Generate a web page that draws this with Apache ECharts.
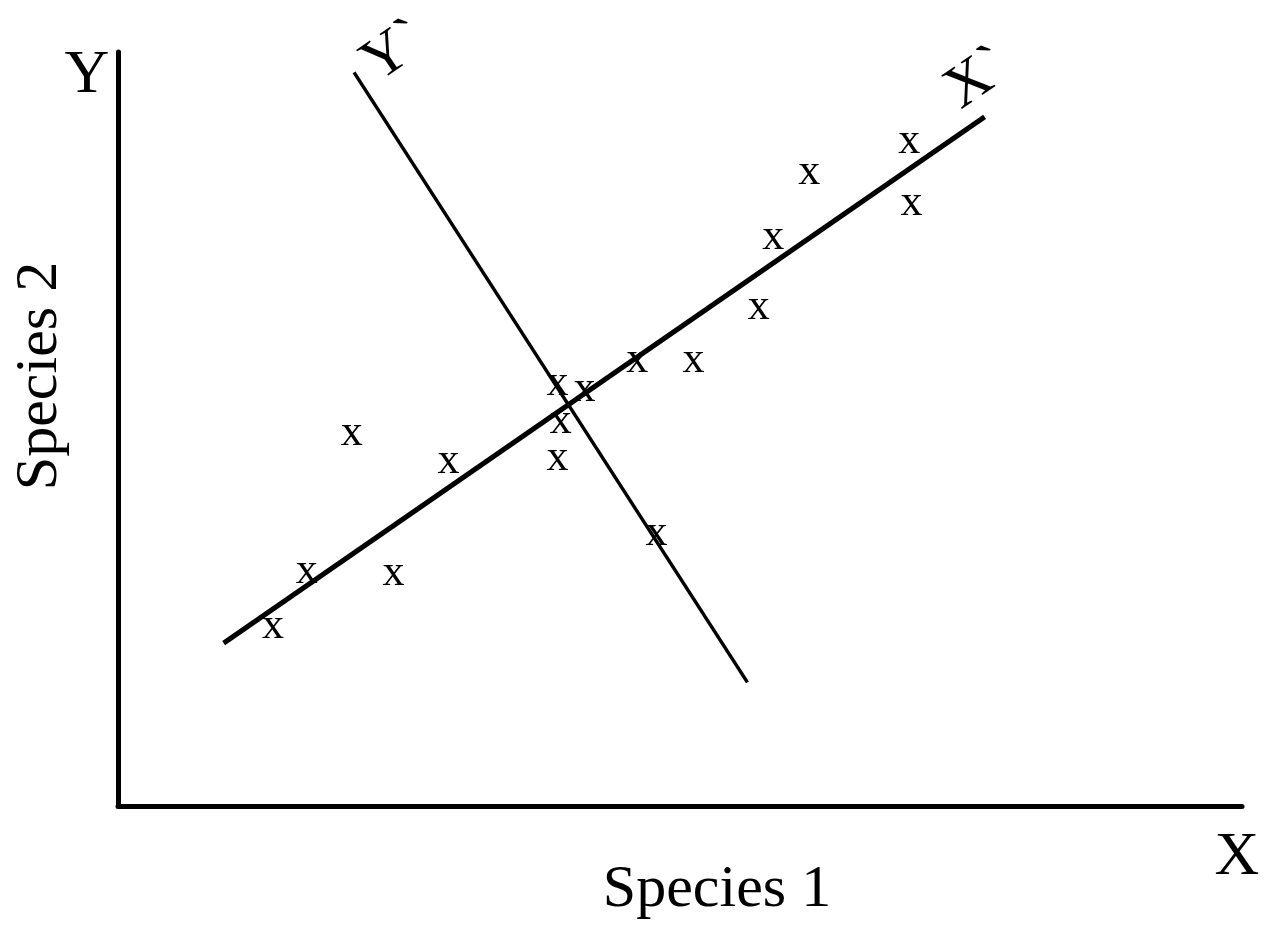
<!DOCTYPE html>
<html>
<head>
<meta charset="utf-8">
<title>Species 1 vs Species 2</title>
<script src="https://cdn.jsdelivr.net/npm/echarts@6/dist/echarts.min.js"></script>
<style>
  html, body { margin: 0; padding: 0; background: #fff; }
  #chart { width: 1271px; height: 928px; }
</style>
</head>
<body>
<div id="chart"></div>
<script>
// sample points (species 1, species 2)
var species1 = [13.8, 16.8, 24.5, 20.8, 29.4, 39.1, 39.4, 39.1, 41.5, 46.2, 51.2, 47.9, 57.0, 58.3, 61.5, 70.4, 70.6];
var species2 = [24.0, 31.3, 31.0, 49.5, 45.8, 46.2, 51.1, 56.2, 55.4, 59.2, 59.2, 36.3, 66.3, 75.5, 84.1, 88.3, 80.0];

// rotated axes X` and Y` (two end points each)
var axisXPrime = [[9.4, 21.6], [77.1, 91.4]];
var axisYPrime = [[21.0, 97.3], [56.0, 16.4]];

var serif = "'Liberation Serif', 'DejaVu Serif', serif";

var points = species1.map(function (v, i) {
	return [v, species2[i]];
});

var chart = echarts.init(document.getElementById("chart"));

chart.setOption({
	backgroundColor: "#fff",
	animation: false,
	grid: {
		left: 118,
		right: 29,
		top: 52,
		bottom: 122
	},
	xAxis: {
		type: "value",
		min: 0,
		max: 100,
		axisLine: { show: true, onZero: false, lineStyle: { color: "#000", width: 5 } },
		axisTick: { show: false },
		axisLabel: { show: false },
		splitLine: { show: false }
	},
	yAxis: {
		type: "value",
		min: 0,
		max: 100,
		axisLine: { show: true, onZero: false, lineStyle: { color: "#000", width: 5 } },
		axisTick: { show: false },
		axisLabel: { show: false },
		splitLine: { show: false }
	},
	series: [
		{
			name: "X`",
			type: "line",
			data: axisXPrime,
			symbol: "none",
			lineStyle: { color: "#000", width: 5 },
			z: 2
		},
		{
			name: "Y`",
			type: "line",
			data: axisYPrime,
			symbol: "none",
			lineStyle: { color: "#000", width: 3.5 },
			z: 2
		},
		{
			name: "samples",
			type: "scatter",
			data: points,
			symbolSize: 1,
			itemStyle: { color: "rgba(0,0,0,0)", opacity: 1 },
			label: {
				show: true,
				position: "inside",
				formatter: "x",
				color: "#000",
				opacity: 1,
				fontFamily: serif,
				fontSize: 44,
				offset: [0, 1]
			},
			z: 3
		}
	],
	graphic: [
		{
			type: "text", x: 87, y: 76,
			style: { text: "Y", font: "62px " + serif, fill: "#000", textAlign: "center", textVerticalAlign: "middle" }
		},
		{
			type: "text", x: 1237, y: 858,
			style: { text: "X", font: "62px " + serif, fill: "#000", textAlign: "center", textVerticalAlign: "middle" }
		},
		{
			type: "text", x: 717, y: 890,
			style: { text: "Species 1", font: "60px " + serif, fill: "#000", textAlign: "center", textVerticalAlign: "middle" }
		},
		{
			type: "text", x: 40, y: 376, rotation: Math.PI / 2,
			style: { text: "Species 2", font: "60px " + serif, fill: "#000", textAlign: "center", textVerticalAlign: "middle" }
		},
		{
			type: "text", x: 395, y: 52, rotation: 0.6,
			style: { text: "Y`", font: "60px " + serif, fill: "#000", textAlign: "center", textVerticalAlign: "middle" }
		},
		{
			type: "text", x: 978, y: 79, rotation: 0.6,
			style: { text: "X`", font: "60px " + serif, fill: "#000", textAlign: "center", textVerticalAlign: "middle" }
		}
	]
});
</script>
</body>
</html>
